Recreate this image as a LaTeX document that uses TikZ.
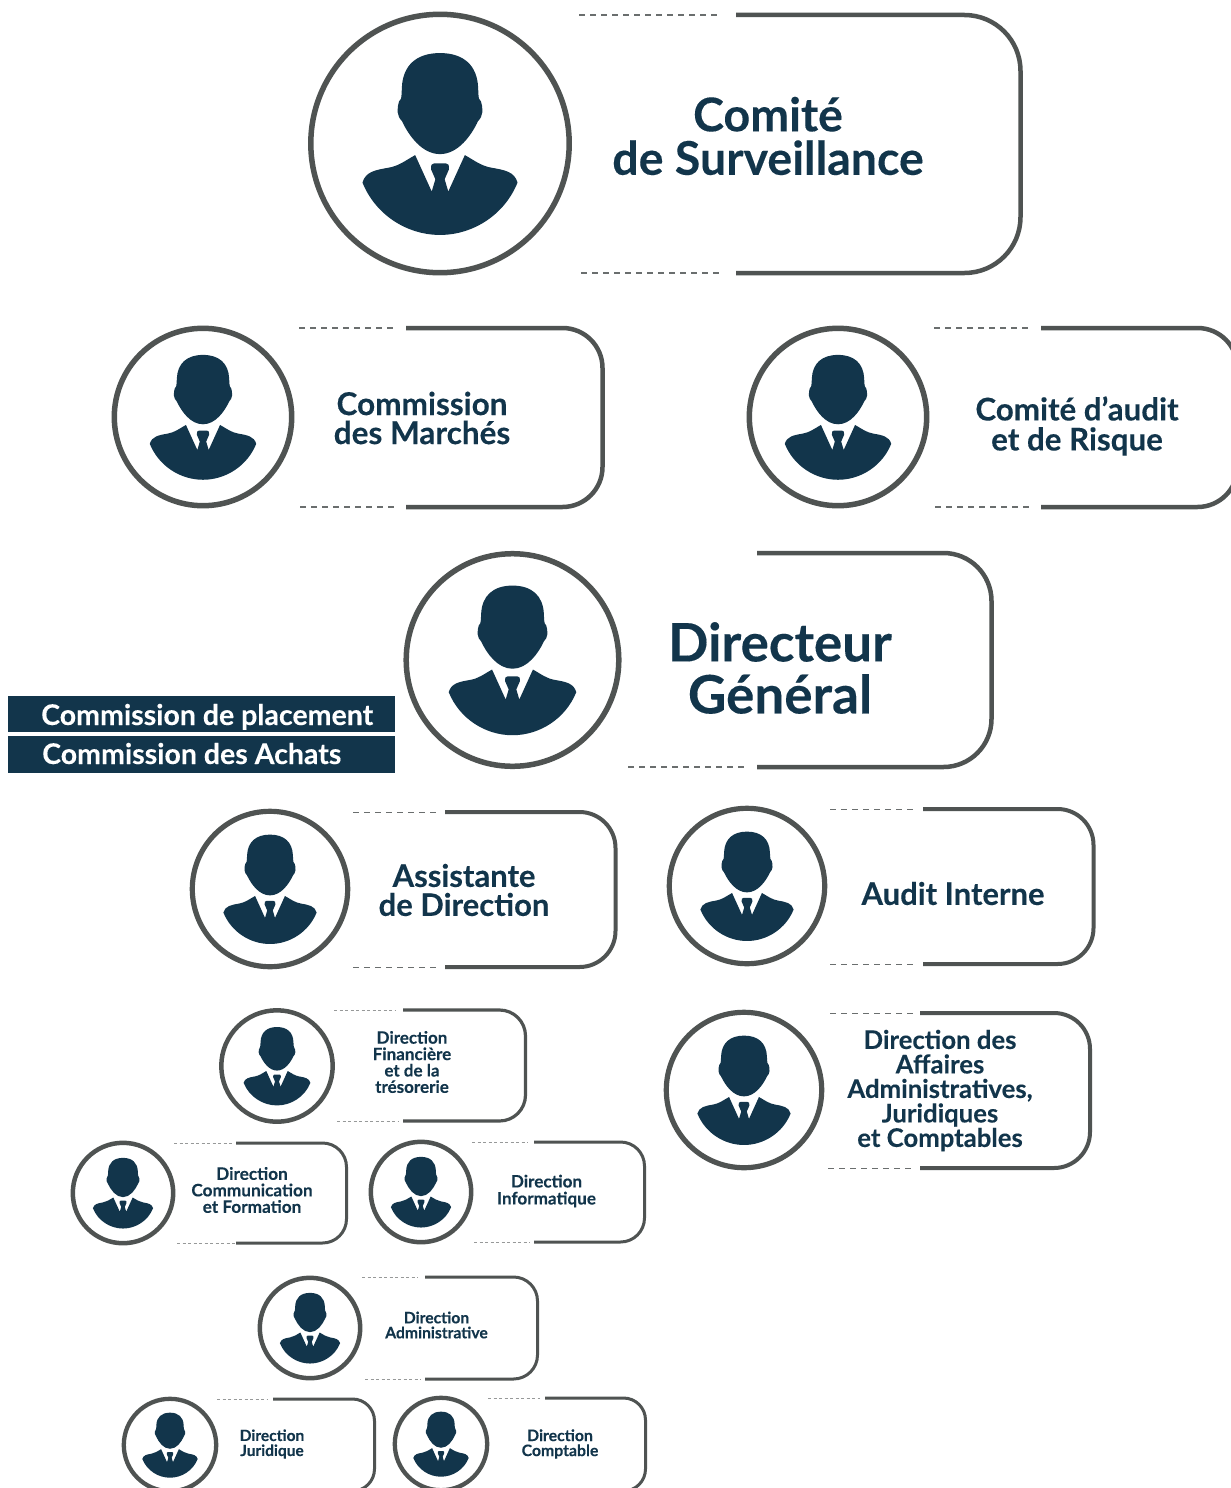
\documentclass[tikz,border=0pt]{standalone}
\usepackage{fontspec}
\setmainfont{Lato}[BoldFont={Lato Bold},BoldFeatures={FakeBold=0.2}]
\definecolor{navy}{HTML}{12354B}
\definecolor{rim}{HTML}{4F5352}
\definecolor{dashgray}{HTML}{6A6E6E}
\tikzset{
  ring/.style={circle,draw=rim,fill=white,inner sep=0pt,outer sep=0pt},
  solidline/.style={draw=rim,line cap=butt},
  dashline/.style={draw=dashgray,dash pattern=on 6pt off 5pt},
  smalldash/.style={draw=dashgray!70,dash pattern=on 3pt off 2.5pt},
  cardtext/.style 2 args={text=navy,align=center,inner sep=0pt,font=\bfseries\fontsize{#1}{#2}\selectfont},
  bandbox/.style={fill=navy,draw=none,inner sep=0pt,outer sep=0pt,anchor=north west},
  bandtext/.style={text=white,inner sep=0pt,anchor=base west,font=\bfseries\fontsize{28.5}{28.5}\selectfont}
}
% name, cx, cy, R (centre line), line width
\newcommand{\person}[5]{%
  \node[ring,line width=#5pt,minimum size=#4*2pt] (#1) at (#2,#3) {};
  \pgfmathsetmacro{\ux}{#4/390}
  \begin{scope}[shift={(#2,#3)},x=\ux pt,y=-\ux pt]
    \fill[navy] (0,-273) .. controls (72,-273) and (112,-235) .. (115,-170)
      .. controls (116,-150) and (116,-140) .. (118,-135)
      .. controls (128,-128) and (128,-100) .. (128,-95)
      .. controls (127,-85) and (122,-74) .. (115,-68)
      .. controls (95,-25) and (55,32) .. (0,32)
      .. controls (-55,32) and (-95,-25) .. (-115,-68)
      .. controls (-122,-74) and (-127,-85) .. (-128,-95)
      .. controls (-128,-100) and (-128,-128) .. (-118,-135)
      .. controls (-116,-140) and (-116,-150) .. (-115,-170)
      .. controls (-112,-235) and (-72,-273) .. (0,-273) -- cycle;
    \fill[navy] (-75,35) -- (-25,145) -- (-14,108) -- (-27,78)
      .. controls (-28,65) and (-25,60) .. (-18,60) -- (18,60)
      .. controls (25,60) and (28,65) .. (27,78)
      -- (14,108) -- (25,145) -- (75,35)
      .. controls (105,52) and (125,68) .. (155,73)
      .. controls (195,80) and (225,85) .. (234,118)
      .. controls (195,215) and (100,276) .. (0,276)
      .. controls (-100,276) and (-195,215) .. (-234,118)
      .. controls (-225,85) and (-195,80) .. (-155,73)
      .. controls (-125,68) and (-105,52) .. (-75,35) -- cycle;
  \end{scope}}
% solid x start, right, top, bottom, corner, width, name
\newcommand{\frameline}[7]{%
  \coordinate (#7a) at (#1,#3);
  \coordinate (#7b) at (#2,#3);
  \coordinate (#7c) at (#2,#4);
  \coordinate (#7d) at (#1,#4);
  \draw[solidline,line width=#6pt,rounded corners=#5pt] (#7a) -- (#7b) -- (#7c) -- (#7d);}
% x1, x2, y, name, dash width
\newcommand{\dashrun}[5]{%
  \coordinate (#4a) at (#1,#3);
  \coordinate (#4b) at (#2,#3);
  \draw[dashline,line width=#5pt] (#4a) -- (#4b);}
\newcommand{\dotrun}[5]{%
  \coordinate (#4a) at (#1,#3);
  \coordinate (#4b) at (#2,#3);
  \draw[smalldash,line width=#5pt] (#4a) -- (#4b);}
\begin{document}
\begin{tikzpicture}[x=1pt,y=-1pt]
\useasboundingbox (0,0) rectangle (1231,1488);
\clip (0,0) rectangle (1231,1488);
\fill[white] (0,0) rectangle (1231,1488);

% Comite de Surveillance
\frameline{736}{1020.5}{15}{273}{56}{4.5}{fa}
\dashrun{579}{720}{15}{da}{1.2}\dashrun{581}{722}{273}{db}{1.2}
\person{pa}{440}{143.5}{129.2}{5.5}
\node[cardtext={46.5}{43.5}] (ta) at (768,136) {Comité\\de Surveillance};

% Commission des Marches
\frameline{406}{602.5}{328}{507}{40}{4.5}{fb}
\dashrun{299}{396}{328}{dc}{1.1}\dashrun{300}{397}{507}{dd}{1.1}
\person{pb}{203}{417}{88.7}{5.5}
\node[cardtext={31.5}{29}] (tb) at (422,418) {Commission\\des Marchés};

% Comite d'audit
\frameline{1041}{1237.5}{328}{507}{40}{4.5}{fc}
\dashrun{934}{1031}{328}{de}{1.1}\dashrun{935}{1032}{507}{df}{1.1}
\person{pc}{838}{417}{88.7}{5.5}
\node[cardtext={31.3}{30}] (tc) at (1077,426) {Comité d’audit\\et de Risque};

% Directeur General
\frameline{757}{991.5}{553}{767}{48}{4.5}{fd}
\dashrun{628}{745}{767}{dg}{1.1}
\person{pd}{512.5}{660}{106.3}{5.5}
\node[cardtext={53}{52}] (td) at (780,668) {Directeur\\Général};

% Bands
\node[bandbox,minimum width=387pt,minimum height=36pt] (ba) at (8,696) {};
\node[bandbox,minimum width=387pt,minimum height=37pt] (bb) at (8,736) {};
\node[bandtext] (bta) at (41,725) {Commission de placement};
\node[bandtext] (btb) at (42,764) {Commission des Achats};

% Assistante
\frameline{445}{615.5}{812}{967}{36}{4}{fe}
\dashrun{353}{437}{812}{dh}{1}\dashrun{353}{437}{967}{di}{1}
\person{pe}{270}{889}{77.7}{5.2}
\node[cardtext={31}{29}] (te) at (464,890) {Assistante\\de Direction};

% Audit Interne
\frameline{923}{1093.5}{809}{964}{36}{4}{ff}
\dashrun{830}{914}{809}{dj}{1}\dashrun{830}{914}{964}{dk}{1}
\person{pf}{747}{886}{77.7}{5.2}
\node[cardtext={31}{29}] (tf) at (953,893.5) {Audit Interne};

% Direction des Affaires
\frameline{920}{1090}{1013}{1168}{36}{4}{fg}
\dashrun{830}{914}{1013}{dl}{1}\dashrun{828}{912}{1168}{dm}{1}
\person{pg}{744}{1090}{77.7}{5.2}
\node[cardtext={25.7}{24.5}] (tg) at (940,1090.5) {Direction des\\Affaires\\Administratives,\\Juridiques\\et Comptables};

% Financiere
\frameline{403}{525.5}{1010}{1121}{26}{3.2}{fh}
\dotrun{334}{395}{1010}{dn}{.8}\dotrun{337}{398}{1121}{do}{.8}
\person{ph}{277}{1066}{55.7}{4.5}
\node[cardtext={17}{16.4}] (th) at (412,1062) {Direction\\Financière\\et de la\\trésorerie};

% Communication
\frameline{236}{346.5}{1143}{1243}{24}{3}{fi}
\dotrun{174}{232}{1143}{dp}{.8}\dotrun{177}{235}{1243}{dq}{.8}
\person{pi}{123}{1193}{50.2}{4.5}
\node[cardtext={17.2}{16.5}] (ti) at (252,1190) {Direction\\Communication\\et Formation};

% Informatique
\frameline{534}{644.5}{1142}{1242}{24}{3}{fj}
\dotrun{472}{528}{1142}{dr}{.8}\dotrun{474}{530}{1242}{ds}{.8}
\person{pj}{421}{1192}{50.2}{4.5}
\node[cardtext={17.1}{17}] (tj) at (546.5,1191) {Direction\\Informatique};

% Administrative
\frameline{425}{537.5}{1277}{1379}{24}{3}{fk}
\dotrun{362}{418}{1277}{dt}{.8}\dotrun{365}{421}{1379}{du}{.8}
\person{pk}{310}{1328}{50.2}{4.5}
\node[cardtext={15.7}{15}] (tk) at (436.5,1325) {Direction\\Administrative};

% Juridique
\frameline{273}{374.5}{1399}{1491}{22}{3}{fl}
\dotrun{217}{268}{1399}{dv}{.8}
\person{pl}{170}{1445}{46.2}{4.3}
\node[cardtext={15.5}{15}] (tl) at (272,1444) {Direction\\Juridique};

% Comptable
\frameline{545}{645.5}{1398}{1491}{22}{3}{fm}
\dotrun{488}{540}{1398}{dw}{.8}
\person{pm}{441}{1444}{46.2}{4.3}
\node[cardtext={15.8}{15}] (tm) at (560,1444) {Direction\\Comptable};
\end{tikzpicture}
\end{document}
